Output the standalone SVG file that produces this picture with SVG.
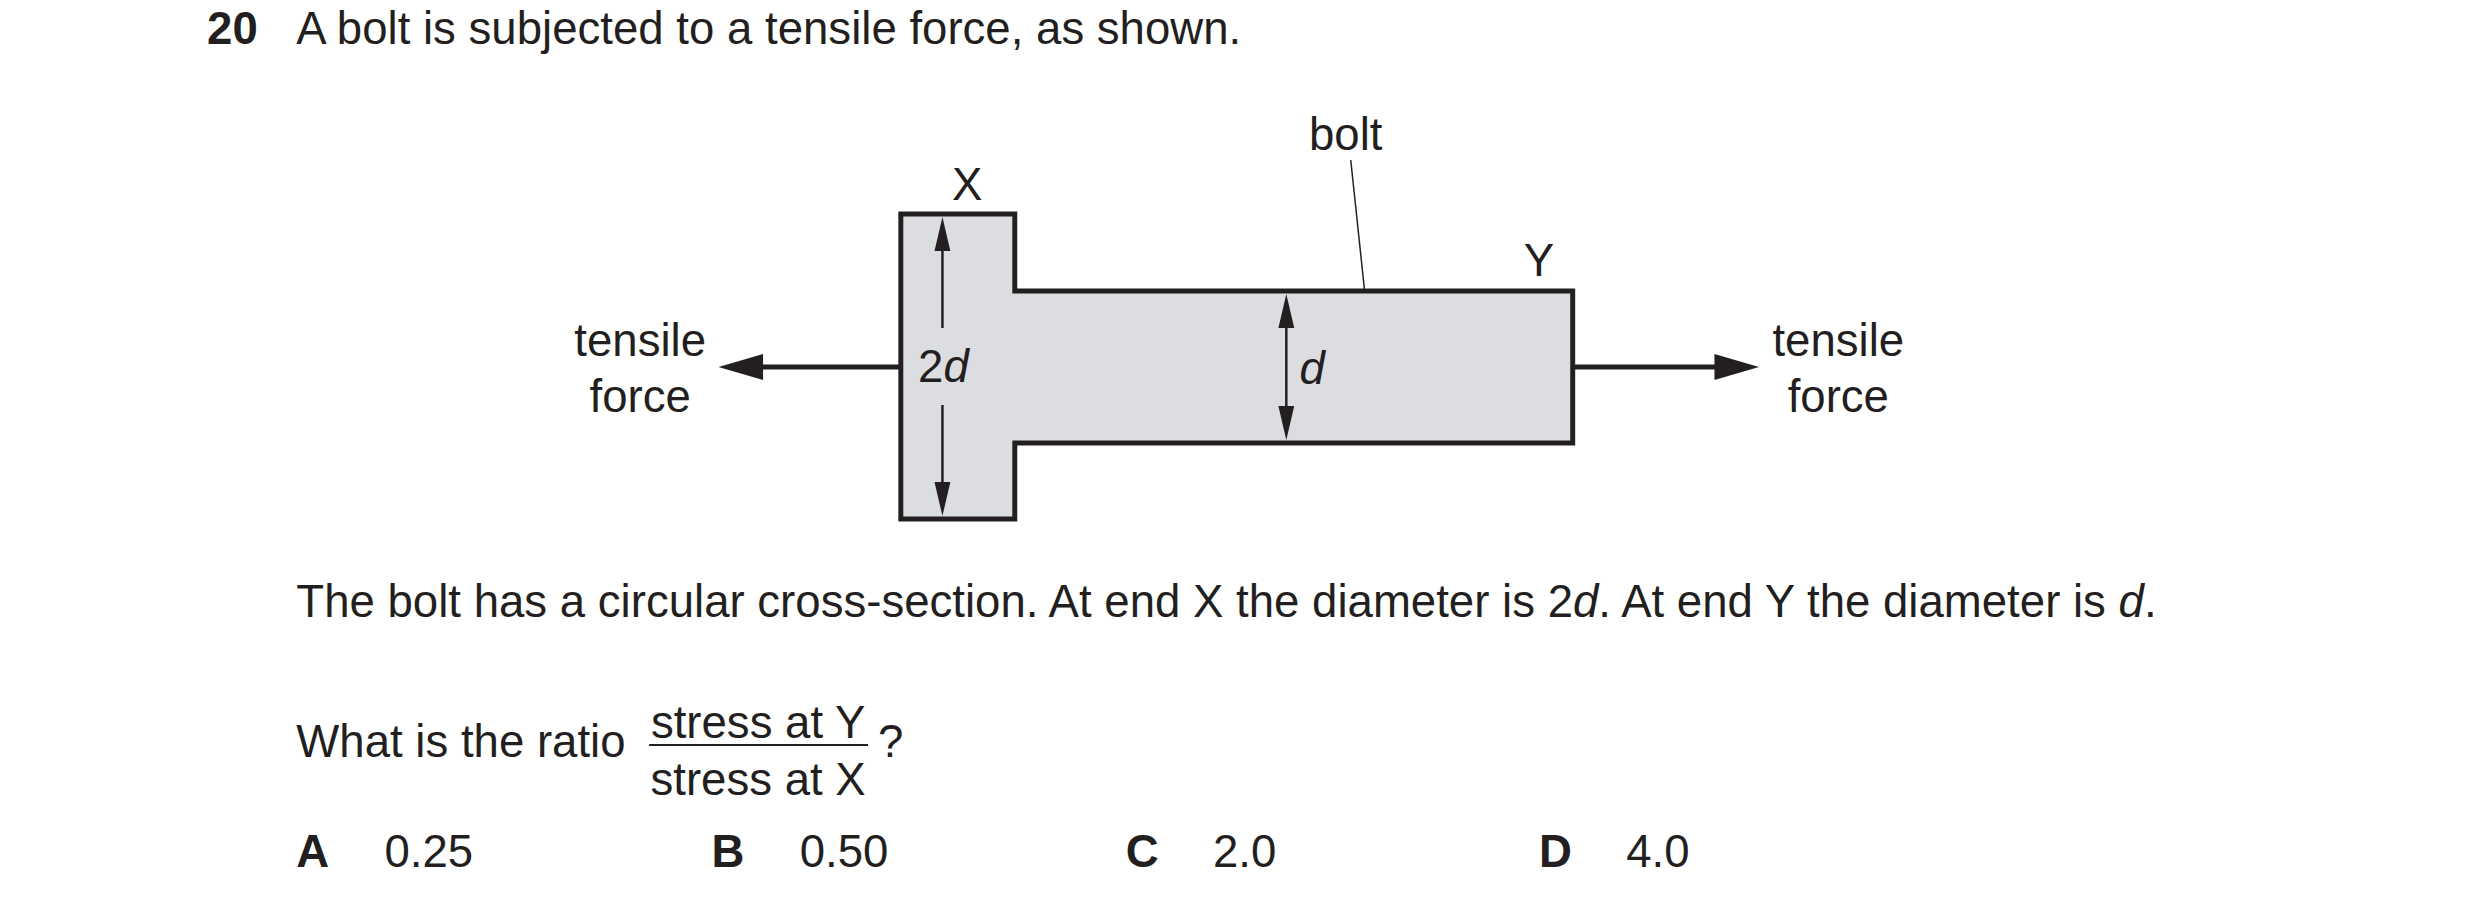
<svg xmlns="http://www.w3.org/2000/svg" width="2480" height="900" viewBox="0 0 2480 900">
<style>
text{font-family:"Liberation Sans",Arial,sans-serif;font-size:46px;fill:#231f20}
.b{font-weight:bold}
.c{text-anchor:middle}
.body{fill:#dcdde0;stroke:#231f20;stroke-width:5}
.dim{stroke:#231f20;stroke-width:2.5;fill:none}
.force{stroke:#231f20;stroke-width:5;fill:none}
.head{fill:#231f20}
</style>
<g transform="scale(0.991,1)">
<text x="209" y="44" class="b">20</text>
<text x="299" y="44">A bolt is subjected to a tensile force, as shown.</text>
<g id="bolt">
<path class="body" d="M909,214 H1024 V291 H1587 V443 H1024 V519 H909 Z"/>
</g>
<g id="connectors">
<line class="force" x1="909" y1="367" x2="760" y2="367"/>
<polygon class="head" points="725,367 770,354 770,380"/>
<line class="force" x1="1587" y1="367" x2="1740" y2="367"/>
<polygon class="head" points="1775,367 1730,354 1730,380"/>
<line class="dim" x1="951" y1="328" x2="951" y2="240"/>
<polygon class="head" points="951,217 943,251 959,251"/>
<line class="dim" x1="951" y1="405" x2="951" y2="495"/>
<polygon class="head" points="951,516 943,482 959,482"/>
<line class="dim" x1="1298" y1="320" x2="1298" y2="415"/>
<polygon class="head" points="1298,294 1290,328 1306,328"/>
<polygon class="head" points="1298,440 1290,406 1306,406"/>
<line stroke="#231f20" stroke-width="1.5" x1="1363" y1="160" x2="1377" y2="291"/>
</g>
<g id="labels">
<text x="976" y="200" class="c">X</text>
<text x="1553" y="276" class="c">Y</text>
<text x="1358" y="150" class="c">bolt</text>
<text x="646" y="356" class="c">tensile</text>
<text x="646" y="412" class="c">force</text>
<text x="1855" y="356" class="c">tensile</text>
<text x="1855" y="412" class="c">force</text>
<text x="952" y="382" class="c">2<tspan font-style="italic">d</tspan></text>
<text x="1324" y="384" class="c" font-style="italic">d</text>
</g>
<text x="299" y="617">The bolt has a circular cross-section. At end X the diameter is 2<tspan font-style="italic">d</tspan>. At end Y the diameter is <tspan font-style="italic">d</tspan>.</text>
<text x="299" y="757">What is the ratio</text>
<text x="765" y="738" class="c">stress at Y</text>
<line x1="655" y1="745" x2="876" y2="745" stroke="#231f20" stroke-width="2"/>
<text x="765" y="795" class="c">stress at X</text>
<text x="886" y="757">?</text>
<text x="299" y="867" class="b">A</text><text x="388" y="867">0.25</text>
<text x="718" y="867" class="b">B</text><text x="807" y="867">0.50</text>
<text x="1136" y="867" class="b">C</text><text x="1224" y="867">2.0</text>
<text x="1553" y="867" class="b">D</text><text x="1641" y="867">4.0</text>
</g>
</svg>
